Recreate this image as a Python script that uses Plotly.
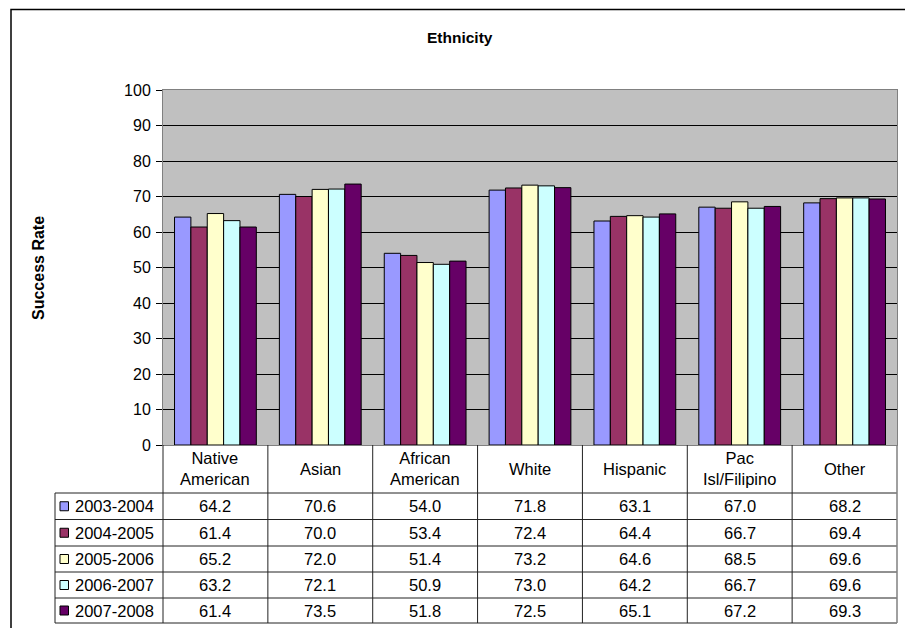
import plotly.graph_objects as go

# Success rate by ethnicity, five academic years
categories = ["Native American", "Asian", "African American", "White",
              "Hispanic", "Pac Isl/Filipino", "Other"]
header_labels = ["Native<br>American", "Asian", "African<br>American", "White",
                 "Hispanic", "Pac<br>Isl/Filipino", "Other"]
years = ["2003-2004", "2004-2005", "2005-2006", "2006-2007", "2007-2008"]

rate_2003_2004 = [64.2, 70.6, 54.0, 71.8, 63.1, 67.0, 68.2]
rate_2004_2005 = [61.4, 70.0, 53.4, 72.4, 64.4, 66.7, 69.4]
rate_2005_2006 = [65.2, 72.0, 51.4, 73.2, 64.6, 68.5, 69.6]
rate_2006_2007 = [63.2, 72.1, 50.9, 73.0, 64.2, 66.7, 69.6]
rate_2007_2008 = [61.4, 73.5, 51.8, 72.5, 65.1, 67.2, 69.3]
series = [rate_2003_2004, rate_2004_2005, rate_2005_2006, rate_2006_2007, rate_2007_2008]

colors = ["#9999FF", "#993366", "#FFFFCC", "#CCFFFF", "#660066"]

W, H = 905, 628
PL, PR, PT, PB = 163, 897, 90, 445  # plot area in pixels


def px(x):
    return (x - PL) / (PR - PL)


def py(y):
    return (PB - y) / (PB - PT)


FONT = "Liberation Sans, Arial, sans-serif"
TABLE_SIZE = 16.5

fig = go.Figure()
for name, vals, col in zip(years, series, colors):
    fig.add_trace(go.Bar(
        name=name, x=categories, y=vals,
        marker=dict(color=col, line=dict(color="black", width=1)),
        hovertemplate="%{x}<br>" + name + ": %{y:.1f}<extra></extra>",
    ))

shapes = []
annotations = []

# outer chart frame
shapes.append(dict(type="rect", xref="paper", yref="paper",
                   x0=px(11), x1=px(912), y0=py(9.5), y1=py(640),
                   line=dict(color="black", width=1.5), fillcolor="rgba(0,0,0,0)",
                   layer="below"))

# data table grid
row_lines = [493, 519.5, 546, 572, 598, 623]
for i, yy in enumerate(row_lines):
    shapes.append(dict(type="line", xref="paper", yref="paper",
                       x0=px(55), x1=px(PR), y0=py(yy), y1=py(yy),
                       line=dict(color="#222222", width=1)))
shapes.append(dict(type="line", xref="paper", yref="paper",
                   x0=px(55), x1=px(55), y0=py(493), y1=py(623),
                   line=dict(color="#222222", width=1)))
shapes.append(dict(type="line", xref="paper", yref="paper",
                   x0=0, x1=0, y0=py(445), y1=py(623),
                   line=dict(color="#222222", width=1)))
shapes.append(dict(type="line", xref="paper", yref="paper",
                   x0=1, x1=1, y0=py(445), y1=py(623),
                   line=dict(color="#808080", width=1.5)))
for k in range(len(categories) - 1):
    shapes.append(dict(type="line", xref="x", yref="paper",
                       x0=k + 0.5, x1=k + 0.5, y0=py(445), y1=py(623),
                       line=dict(color="#222222", width=1)))

# header row: category names
for cat, lab in zip(categories, header_labels):
    annotations.append(dict(xref="x", yref="paper", x=cat, y=py(469),
                            text=lab, showarrow=False, xanchor="center",
                            yanchor="middle",
                            font=dict(family=FONT, size=TABLE_SIZE, color="black")))

# value rows with legend keys
for r, (name, vals, col) in enumerate(zip(years, series, colors)):
    yc = (row_lines[r] + row_lines[r + 1]) / 2
    shapes.append(dict(type="rect", xref="paper", yref="paper",
                       x0=px(60), x1=px(68.5), y0=py(yc - 4.5), y1=py(yc + 4.5),
                       fillcolor=col, line=dict(color="black", width=1)))
    annotations.append(dict(xref="paper", yref="paper", x=px(72.5), y=py(yc),
                            text=name, showarrow=False, xanchor="left",
                            yanchor="middle",
                            font=dict(family=FONT, size=TABLE_SIZE, color="black")))
    for cat, v in zip(categories, vals):
        annotations.append(dict(xref="x", yref="paper", x=cat, y=py(yc),
                                text=f"{v:.1f}", showarrow=False,
                                xanchor="center", yanchor="middle",
                                font=dict(family=FONT, size=TABLE_SIZE, color="black")))

# chart title and axis title
annotations.append(dict(xref="paper", yref="paper", x=px(460), y=py(38),
                        text="<b>Ethnicity</b>", showarrow=False,
                        xanchor="center", yanchor="middle",
                        font=dict(family=FONT, size=15.5, color="black")))
annotations.append(dict(xref="paper", yref="paper", x=px(38), y=py(268),
                        text="<b>Success Rate</b>", showarrow=False,
                        textangle=-90, xanchor="center", yanchor="middle",
                        font=dict(family=FONT, size=16, color="black")))

fig.update_layout(
    width=W, height=H,
    margin=dict(l=PL, r=W - PR, t=PT, b=H - PB, pad=0),
    paper_bgcolor="white",
    plot_bgcolor="#C0C0C0",
    barmode="group",
    bargap=0.22,
    bargroupgap=0,
    showlegend=False,
    shapes=shapes,
    annotations=annotations,
    font=dict(family=FONT, size=16, color="black"),
)
fig.update_xaxes(
    type="category", showticklabels=False, ticks="",
    showline=True, linecolor="#808080", linewidth=1, mirror=True,
    showgrid=False, zeroline=False,
)
fig.update_yaxes(
    range=[0, 100], dtick=10, tick0=0,
    ticks="outside", ticklen=6, tickcolor="black", tickwidth=1,
    showline=True, linecolor="#808080", linewidth=1, mirror=True,
    showgrid=True, gridcolor="black", gridwidth=1, zeroline=False,
    tickfont=dict(family=FONT, size=16, color="black"),
    ticklabelstandoff=2,
)

fig.write_html("out.html")
